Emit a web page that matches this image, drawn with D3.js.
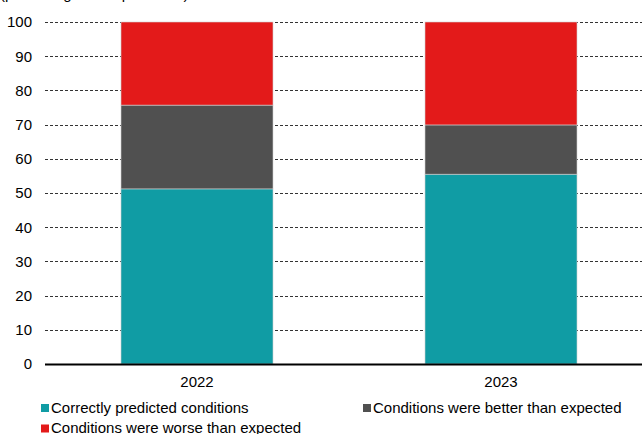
<!DOCTYPE html>
<html><head><meta charset="utf-8">
<script src="https://cdn.jsdelivr.net/npm/d3@7"></script>
<style>body{margin:0;background:#fff;}svg{display:block;font-family:"Liberation Sans",Arial,sans-serif;}</style>
</head><body>
<svg id="c" width="642" height="434"></svg>
<script>
const categories = ["2022", "2023"];
const seriesNames = ["Correctly predicted conditions", "Conditions were better than expected", "Conditions were worse than expected"];
const correct = [51.2, 55.5];
const better = [24.5, 14.4];
const worse = [24.3, 30.1];
const yTicks = [0,10,20,30,40,50,60,70,80,90,100];
const colors = ["#109ca4", "#505050", "#e31a1a"];

const svg = d3.select("#c");
const m = {left:45, top:22, bottom:364, right:653};
const x = d3.scaleBand().domain(categories).range([m.left, m.right]).paddingInner(0.5).paddingOuter(0.25);
const y = d3.scaleLinear().domain([0,100]).range([m.bottom, m.top]);

// partial cut-off subtitle (cut off at top edge in the reference too)
svg.append("text").attr("x",0).attr("y",-1).attr("font-size",15)
  .attr("fill","#000").text("(percentage of respondents)");

// gridlines
svg.append("g").selectAll("line").data(yTicks.filter(d=>d>0)).join("line")
  .attr("x1",m.left).attr("x2",642).attr("y1",d=>Math.round(y(d))+0.5).attr("y2",d=>Math.round(y(d))+0.5)
  .attr("stroke","#333").attr("stroke-width",1).attr("stroke-dasharray","3,2");

// y tick labels
const yAxis = d3.axisLeft(y).tickValues(yTicks).tickSize(0).tickPadding(0);
const ga = svg.append("g").attr("transform",`translate(32,0)`).call(yAxis);
ga.select(".domain").remove();
ga.selectAll("text").attr("font-size",15).attr("fill","#000").attr("font-family","Liberation Sans, Arial, sans-serif");

// stacked bars
const rows = categories.map((c,i)=>({cat:c, s0:correct[i], s1:better[i], s2:worse[i]}));
const stack = d3.stack().keys(["s0","s1","s2"])(rows);
svg.append("g").selectAll("g").data(stack).join("g").attr("fill",(d,i)=>colors[i])
  .selectAll("rect").data(d=>d).join("rect")
  .attr("x",d=>x(d.data.cat)).attr("width",x.bandwidth())
  .attr("y",d=>y(d[1])).attr("height",d=>y(d[0])-y(d[1]))
  .attr("stroke","#cfcfcf").attr("stroke-width",0.6);

// baseline
svg.append("line").attr("x1",m.left).attr("x2",642).attr("y1",y(0)+0.5).attr("y2",y(0)+0.5)
  .attr("stroke","#000").attr("stroke-width",2);

// x labels
const xAxis = d3.axisBottom(x).tickSize(0).tickPadding(0);
const gx = svg.append("g").attr("transform",`translate(0,${y(0)+12})`).call(xAxis);
gx.select(".domain").remove();
gx.selectAll("text").attr("font-size",15).attr("fill","#000").attr("dy","0.71em").attr("font-family","Liberation Sans, Arial, sans-serif");

// legend
const legendPos = [[41,407.5],[363,407.5],[41,428]];
const lg = svg.append("g").selectAll("g").data(seriesNames).join("g")
  .attr("transform",(d,i)=>`translate(${legendPos[i][0]},${legendPos[i][1]})`);
lg.append("rect").attr("x",0).attr("y",-3.5).attr("width",8).attr("height",8).attr("fill",(d,i)=>colors[i]);
lg.append("text").attr("x",10).attr("y",0).attr("dy","0.35em")
  .attr("font-size",15).attr("fill","#000").text(d=>d);
</script>
</body></html>
